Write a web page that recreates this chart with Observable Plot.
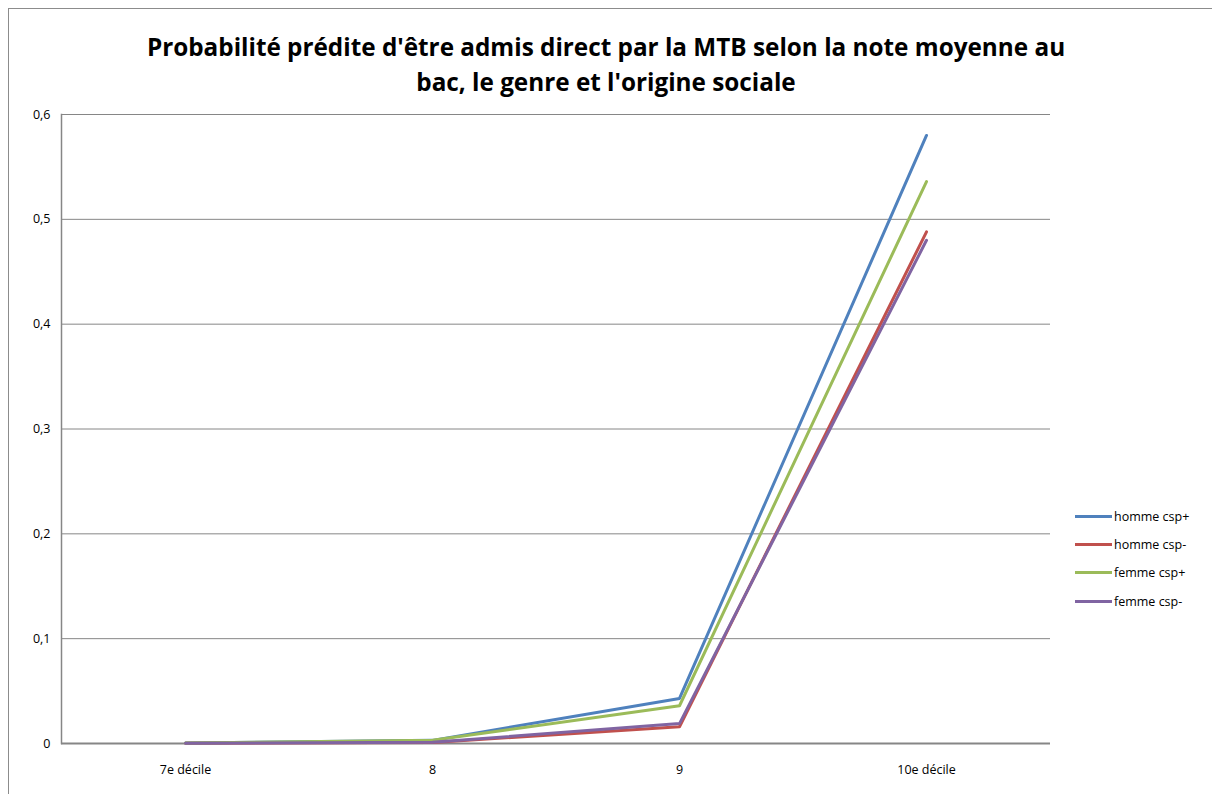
<!DOCTYPE html>
<html><head><meta charset="utf-8">
<script src="https://cdn.jsdelivr.net/npm/d3@7"></script>
<script src="https://cdn.jsdelivr.net/npm/@observablehq/plot@0.6"></script>
<style>
body{margin:0;background:#fff;}
#wrap{position:relative;width:1212px;height:794px;overflow:hidden;font-family:"Open Sans",sans-serif;}
#border{position:absolute;left:8px;top:8px;width:1300px;height:900px;border:1px solid #8c8c8c;}
#title{position:absolute;left:0;width:1212px;top:29px;text-align:center;font-weight:bold;font-size:24.3px;line-height:35px;color:#000;}
#legend{position:absolute;left:1075px;top:502px;font-family:"Open Sans",sans-serif;font-size:12.5px;}
.li{height:28.3px;display:flex;align-items:center;}
.li span{display:inline-block;width:37px;height:3px;margin-right:2px;}
#chart{position:absolute;left:0;top:0;}
</style></head>
<body>
<div id="wrap">
<div id="border"></div>
<div id="chart"></div>
<div id="title">Probabilité prédite d'être admis direct par la MTB selon la note moyenne au<br>bac, le genre et l'origine sociale</div>
<div id="legend"></div>
</div>
<script>
const categories = ["7e décile", "8", "9", "10e décile"];
const seriesNames = ["homme csp+", "homme csp-", "femme csp+", "femme csp-"];
const colors = ["#4F81BD", "#C0504D", "#9BBB59", "#8064A2"];
const hommeCspPlus = [0.0005, 0.003, 0.043, 0.580];
const hommeCspMinus = [0.0003, 0.001, 0.016, 0.488];
const femmeCspPlus = [0.0005, 0.003, 0.036, 0.536];
const femmeCspMinus = [0.0003, 0.0012, 0.019, 0.480];
const yTicks = [0, 0.1, 0.2, 0.3, 0.4, 0.5, 0.6];

const allSeries = [hommeCspPlus, hommeCspMinus, femmeCspPlus, femmeCspMinus];
const data = [];
allSeries.forEach((vals, i) => vals.forEach((v, j) => data.push({serie: seriesNames[i], cat: categories[j], value: v})));

const fmt = d => String(d).replace(".", ",");
const font = '"Open Sans", sans-serif';

const chart = Plot.plot({
  width: 1212, height: 794,
  marginLeft: 61, marginRight: 162, marginTop: 114, marginBottom: 51,
  style: {fontFamily: font, fontSize: "12.5px", color: "#000", background: "transparent"},
  x: {type: "point", domain: categories, padding: 0.5, label: null},
  y: {domain: [0, 0.6], label: null},
  color: {domain: seriesNames, range: colors},
  marks: [
    Plot.gridY(yTicks, {stroke: "#868686", strokeOpacity: 1, strokeWidth: 1}),
    Plot.frame({anchor: "left", stroke: "#868686", strokeWidth: 1.5}),
    Plot.ruleY([0], {stroke: "#868686", strokeWidth: 2}),
    Plot.axisY(yTicks, {tickSize: 0, tickPadding: 11, tickFormat: fmt, fill: "#000", fontSize: 12.5, label: null}),
    Plot.axisX({tickSize: 0, tickPadding: 22, fill: "#000", fontSize: 12.5, label: null}),
    Plot.line(data, {x: "cat", y: "value", z: "serie", stroke: "serie", strokeWidth: 3}),
  ]
});
document.getElementById("chart").appendChild(chart);

const leg = document.getElementById("legend");
seriesNames.forEach((n, i) => {
  const d = document.createElement("div");
  d.className = "li";
  d.innerHTML = `<span style="background:${colors[i]}"></span>${n}`;
  leg.appendChild(d);
});
</script>
</body></html>
